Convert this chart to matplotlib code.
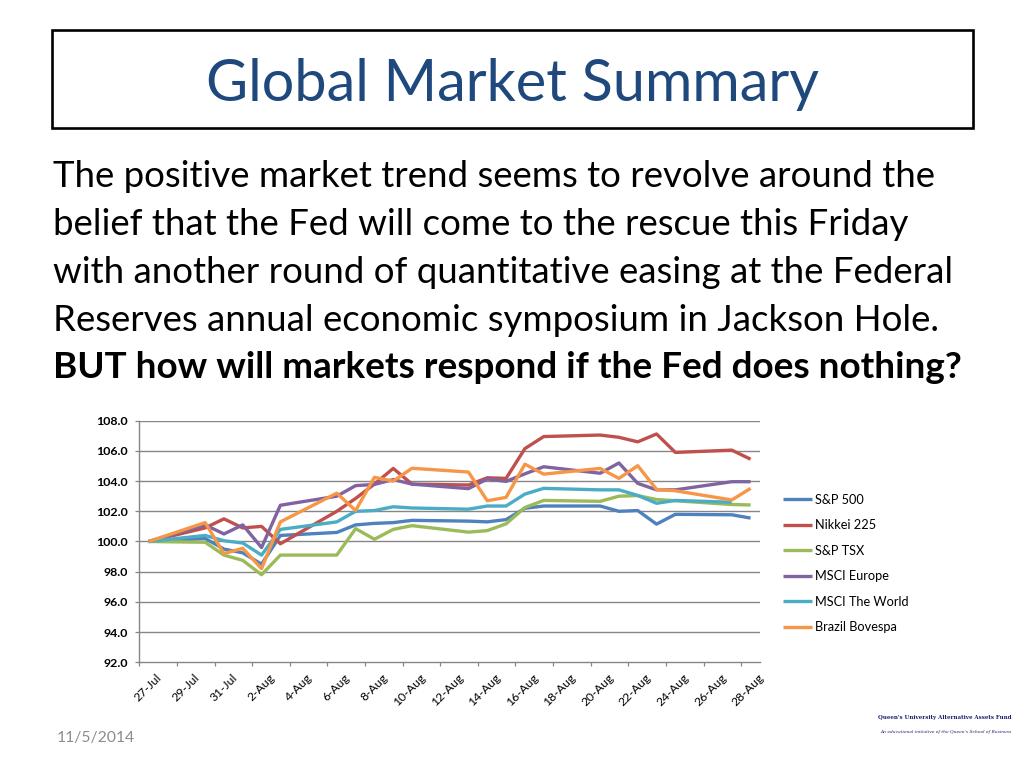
import numpy as np
import pandas as pd
import matplotlib
matplotlib.use("Agg")
import matplotlib.pyplot as plt
import matplotlib.dates as mdates
from matplotlib.patches import Rectangle

# ---------------- data ----------------
trade_dates = ["2012-07-27", "2012-07-30", "2012-07-31", "2012-08-01", "2012-08-02", "2012-08-03",
               "2012-08-06", "2012-08-07", "2012-08-08", "2012-08-09", "2012-08-10",
               "2012-08-13", "2012-08-14", "2012-08-15", "2012-08-16", "2012-08-17",
               "2012-08-20", "2012-08-21", "2012-08-22", "2012-08-23", "2012-08-24",
               "2012-08-27", "2012-08-28"]

sp500 = [100.0, 100.2, 99.5, 99.25, 98.5, 100.4, 100.6, 101.1, 101.2, 101.25, 101.4,
         101.35, 101.3, 101.45, 102.2, 102.35, 102.35, 102.0, 102.05, 101.15, 101.8, 101.77, 101.55]
nikkei = [100.0, 100.9, 101.5, 100.9, 101.0, 99.85, 102.0, 102.85, 103.8, 104.84, 103.8,
          103.74, 104.22, 104.18, 106.15, 106.95, 107.05, 106.9, 106.6, 107.12, 105.9, 106.05, 105.45]
sptsx = [100.0, 99.95, 99.1, 98.75, 97.8, 99.1, 99.1, 100.85, 100.15, 100.8, 101.05,
         100.62, 100.72, 101.17, 102.25, 102.72, 102.66, 103.0, 103.04, 102.78, 102.7, 102.45, 102.42]
msci_europe = [100.0, 101.1, 100.5, 101.1, 99.6, 102.4, 103.0, 103.7, 103.78, 104.1, 103.8,
               103.5, 104.14, 103.98, 104.48, 104.95, 104.52, 105.2, 103.85, 103.42, 103.42, 103.96, 103.96]
msci_world = [100.0, 100.4, 100.05, 99.9, 99.1, 100.8, 101.3, 102.0, 102.05, 102.3, 102.22,
              102.14, 102.35, 102.35, 103.14, 103.52, 103.42, 103.42, 103.05, 102.53, 102.72, 102.6, np.nan]
bovespa = [100.0, 101.25, 99.2, 99.55, 98.2, 101.3, 103.2, 102.05, 104.25, 104.0, 104.85,
           104.6, 102.7, 102.92, 105.12, 104.46, 104.84, 104.18, 105.02, 103.45, 103.36, 102.75, 103.52]

series_names = ["S&P 500", "Nikkei 225", "S&P TSX", "MSCI Europe", "MSCI The World", "Brazil Bovespa"]
series_values = [sp500, nikkei, sptsx, msci_europe, msci_world, bovespa]
series_colors = ["#4F81BD", "#C0504D", "#9BBB59", "#8064A2", "#4BACC6", "#F79646"]

tick_labels = ["27-Jul", "29-Jul", "31-Jul", "2-Aug", "4-Aug", "6-Aug", "8-Aug", "10-Aug",
               "12-Aug", "14-Aug", "16-Aug", "18-Aug", "20-Aug", "22-Aug", "24-Aug",
               "26-Aug", "28-Aug"]
y_ticks = [92.0, 94.0, 96.0, 98.0, 100.0, 102.0, 104.0, 106.0, 108.0]

title_text = "Global Market Summary"
body_lines = ["The positive market trend seems to revolve around the",
              "belief that the Fed will come to the rescue this Friday",
              "with another round of quantitative easing at the Federal",
              "Reserves annual economic symposium in Jackson Hole."]
bold_line = "BUT how will markets respond if the Fed does nothing?"
date_text = "11/5/2014"
logo_title = "Queen's University Alternative Assets Fund"
logo_sub = "An educational initiative of the Queen's School of Business"

# ---------------- figure ----------------
W, H = 1024, 768
FONT = "Lato"
plt.rcParams["font.family"] = [FONT, "DejaVu Sans"]
fig = plt.figure(figsize=(W / 100, H / 100), dpi=100)
fig.patch.set_facecolor("white")
renderer = fig.canvas.get_renderer()


def fx(x):
    return x / W


def fy(y):
    return 1 - y / H


def fit_size(txt, target_px, **kw):
    t = fig.text(0, 0, txt, fontsize=20, **kw)
    w = t.get_window_extent(renderer=renderer).width
    t.remove()
    return 20 * target_px / w


# title box
fig.patches.append(Rectangle((fx(52), fy(128)), fx(973) - fx(52), fy(30) - fy(128),
                             transform=fig.transFigure, fill=False, edgecolor="black",
                             linewidth=1.9))
ts = fit_size(title_text, 615)
fig.text(fx(512), fy(101), title_text, fontsize=ts, color="#1F497D",
         ha="center", va="baseline")

# body text
widths = [885, 855, 905, 887]
sizes = [fit_size(l, w) for l, w in zip(body_lines, widths)]
bs = float(np.median(sizes))
baselines = [187, 235, 283, 331]
for line, yb in zip(body_lines, baselines):
    fig.text(fx(53), fy(yb), line, fontsize=bs, color="black", ha="left", va="baseline")
bbs = fit_size(bold_line, 910, fontweight="bold")
fig.text(fx(53), fy(378), bold_line, fontsize=bbs, fontweight="bold", color="black",
         ha="left", va="baseline")

# date and logo text
dsz = fit_size(date_text, 78)
fig.text(fx(57), fy(742), date_text, fontsize=dsz, color="#8C8C8C", ha="left", va="baseline")
lsz = fit_size(logo_title, 134, family="DejaVu Serif", fontweight="bold")
fig.text(fx(878), fy(719), logo_title, fontsize=lsz, family="DejaVu Serif",
         fontweight="bold", color="#1B2270", ha="left", va="baseline")
lss = fit_size(logo_sub, 130, family="DejaVu Serif", style="italic")
fig.text(fx(880), fy(733), logo_sub, fontsize=lss, family="DejaVu Serif", style="italic",
         color="#1B2270", ha="left", va="baseline")

# ---------------- chart ----------------
ax = fig.add_axes([fx(139.3), fy(662.3), fx(760) - fx(139.3), fy(420.7) - fy(662.3)])
dates = mdates.date2num(pd.to_datetime(trade_dates))
grid_c = "#868686"

for name, vals, col in zip(series_names, series_values, series_colors):
    v = np.array(vals, dtype=float)
    m = ~np.isnan(v)
    ax.plot(dates[m], v[m], color=col, linewidth=2.4, label=name, solid_joinstyle="round",
            solid_capstyle="butt")

ax.set_ylim(92, 108)
ax.set_yticks(y_ticks)
ax.set_yticklabels([f"{v:.1f}" for v in y_ticks], fontweight="bold", fontsize=8.9)
ax.tick_params(axis="y", length=3.1, width=0.9, color=grid_c, pad=5.0)
for v in y_ticks[1:]:
    ax.axhline(v, color=grid_c, linewidth=1.0, zorder=0)

label_pos = mdates.date2num(pd.to_datetime([l + "-2012" for l in tick_labels], format="%d-%b-%Y"))
ax.set_xlim(dates[0] - 0.5, dates[-1] + 0.5)
ax.set_xticks(label_pos - 0.5, minor=True)
ax.set_xticks(label_pos + 0.4)
ax.set_xticklabels(tick_labels, rotation=45, ha="right", va="top", rotation_mode="anchor",
                   fontsize=8.8)
ax.tick_params(axis="x", which="major", length=0, pad=7.0)
ax.tick_params(axis="x", which="minor", length=3.1, width=0.9, color=grid_c)

for s in ["top", "right"]:
    ax.spines[s].set_visible(False)
for s in ["left", "bottom"]:
    ax.spines[s].set_color(grid_c)
    ax.spines[s].set_linewidth(1.0)

leg = ax.legend(loc="upper left", bbox_to_anchor=(fx(783), fy(493.5)),
                bbox_transform=fig.transFigure, frameon=False, fontsize=9.2,
                handlelength=2.3, handletextpad=0.2, labelspacing=1.06,
                borderpad=0, borderaxespad=0)

fig.savefig("out.png", dpi=100, facecolor="white")
